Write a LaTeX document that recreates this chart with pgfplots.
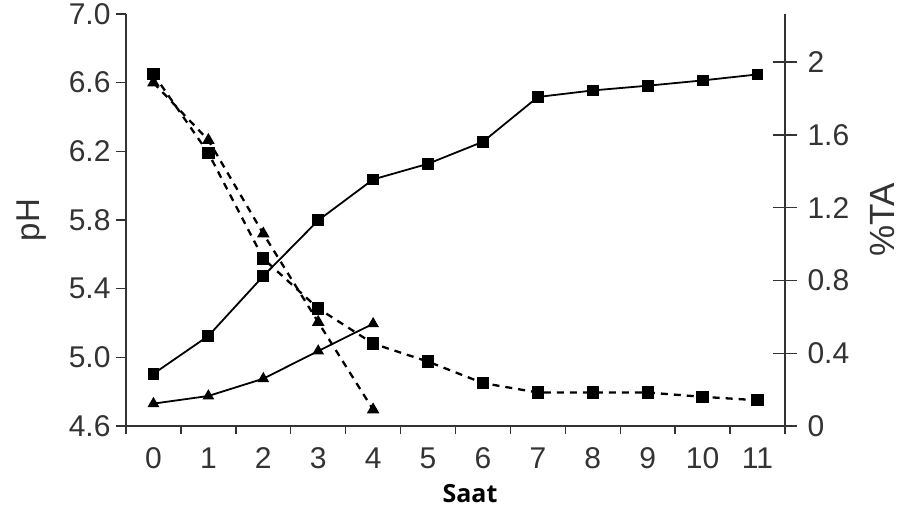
\documentclass[border=0pt]{standalone}
\usepackage{fontspec}
\setmainfont{Liberation Sans}
\newfontfamily\saatfont{Open Sans}
\usepackage{pgfplots}
\usepackage{pgfplotstable}
\pgfplotsset{compat=1.18}

% pH (left axis)
\pgfplotstableread{
x ph
0 6.65
1 6.19
2 5.575
3 5.285
4 5.08
5 4.975
6 4.85
7 4.795
8 4.795
9 4.795
10 4.77
11 4.75
}\phsq
\pgfplotstableread{
x ph
0 6.60
1 6.265
2 5.72
3 5.205
4 4.695
}\phtri
% % TA (right axis)
\pgfplotstableread{
x ta
0 0.287
1 0.495
2 0.824
3 1.13
4 1.355
5 1.441
6 1.562
7 1.808
8 1.844
9 1.870
10 1.899
11 1.932
}\tasq
\pgfplotstableread{
x ta
0 0.123
1 0.165
2 0.26
3 0.412
4 0.562
}\tatri

\begin{document}
\begin{tikzpicture}
\pgfplotsset{
  every axis/.append style={
    scale only axis, width=659pt, height=412pt,
    xmin=-0.5, xmax=11.5,
    font=\fontsize{30}{34}\selectfont,
    axis line style={black!80, line width=1.4pt},
    tick style={black!80, line width=1.4pt},
    /pgf/number format/assume math mode=true,
    tick label style={text=black!80},
    clip=false,
  },
  phline/.style={black, line width=2.3pt, dash pattern=on 7pt off 6pt,
    mark options={solid, fill=black}},
  taline/.style={black, line width=1.8pt, mark options={solid, fill=black}},
}
\begin{axis}[
  axis x line*=bottom, axis y line*=left,
  ymin=4.6, ymax=7.0,
  ytick={4.6,5.0,5.4,5.8,6.2,6.6,7.0},
  y tick label style={/pgf/number format/.cd, fixed, fixed zerofill, precision=1, /tikz/.cd},
  xtick={0,...,11},
  minor xtick={-0.5,0.5,...,11.5},
  major x tick style={draw=none},
  tick align=outside,
  major tick length=10pt, minor tick length=8pt,
  ylabel={pH},
  ylabel style={at={(axis description cs:-0.144,0.5)}, anchor=center, font=\fontsize{33}{36}\selectfont, text=black!80},
  xlabel={\saatfont\bfseries Saat},
  xlabel style={at={(axis description cs:0.522,-0.165)}, anchor=center, font=\fontsize{25}{28}\selectfont},
  xticklabel style={anchor=center, yshift=-22pt},
  yticklabel style={anchor=east, xshift=-2pt},
]
  \addplot[phline, mark=triangle*, mark size=5pt] table[x=x, y=ph] {\phtri};
  \addplot[phline, mark=square*, mark size=5pt] table[x=x, y=ph] {\phsq};
\end{axis}
\begin{axis}[
  axis y line*=right, axis x line=none,
  ymin=0, ymax=2.264,
  ytick={0,0.4,0.8,1.2,1.6,2},
  tick align=center, major tick length=24pt,
  ylabel={\%TA},
  ylabel style={at={(axis description cs:1.148,0.5)}, anchor=center, rotate=0, font=\fontsize{35}{38}\selectfont, text=black!80},
  yticklabel style={anchor=west, xshift=7pt},
]
  \addplot[taline, mark=triangle*, mark size=5pt] table[x=x, y=ta] {\tatri};
  \addplot[taline, mark=square*, mark size=5pt] table[x=x, y=ta] {\tasq};
\end{axis}
\pgfresetboundingbox
\path[use as bounding box] (-126pt,-86pt) rectangle (776pt,426pt);
\end{tikzpicture}
\end{document}
